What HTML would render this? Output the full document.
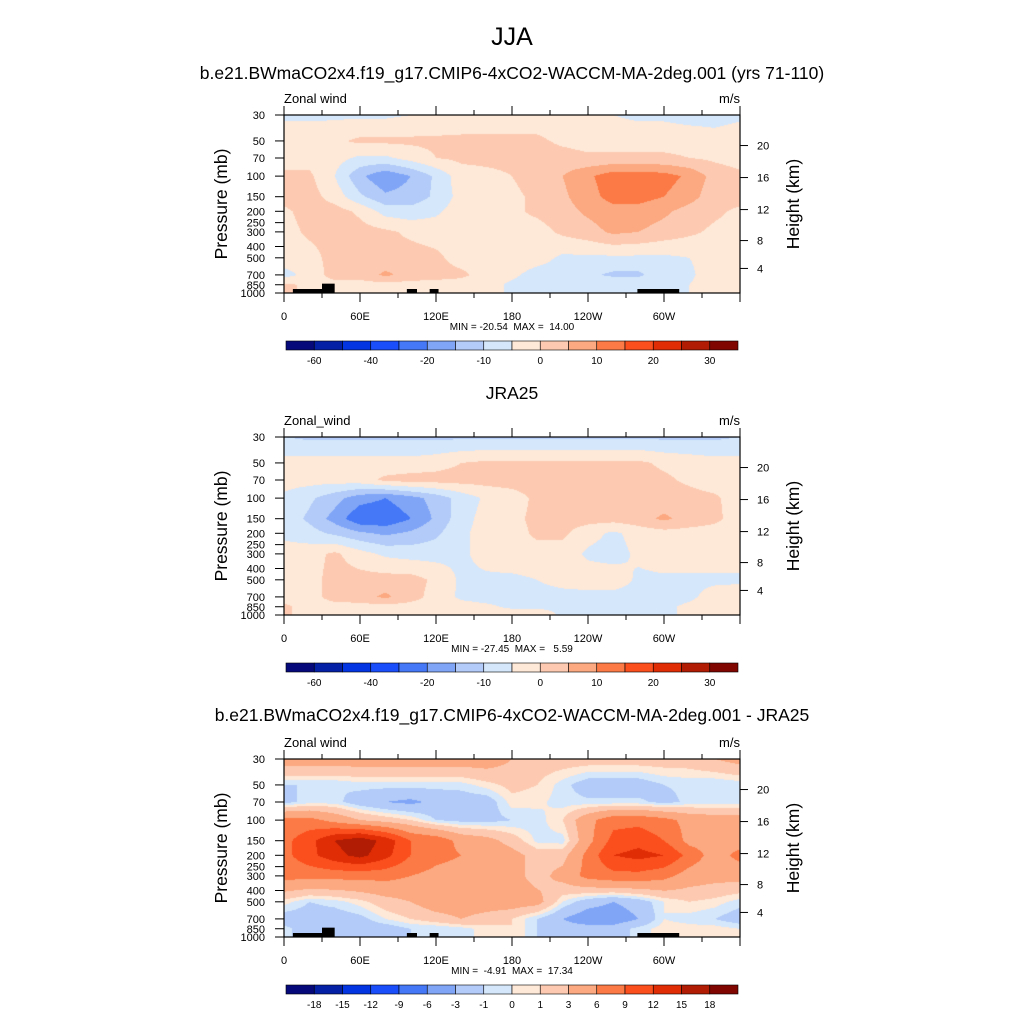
<!DOCTYPE html>
<html><head><meta charset="utf-8">
<style>
html,body{margin:0;padding:0;background:#fff;}
body{width:1024px;height:1024px;position:relative;overflow:hidden;font-family:"Liberation Sans",sans-serif;}
svg text{font-family:"Liberation Sans",sans-serif;white-space:pre;}
</style></head>
<body>
<svg id="fig" width="1024" height="1024" xmlns="http://www.w3.org/2000/svg">
<text x="512" y="45" font-size="25" text-anchor="middle">JJA</text>
</svg>
<script>
// ---------- data ----------
const lons = [0,20,40,60,80,100,120,140,160,180,200,220,240,260,280,300,320,340,360];
const plevs = [30,50,70,100,150,200,300,500,700,850,1000];
const levelsA = [-60,-50,-40,-30,-20,-15,-10,-5,0,5,10,15,20,25,30];
const levelsB = [-18,-15,-12,-9,-6,-3,-1,0,1,3,6,9,12,15,18];
const colors = ["#05097a","#0420a4","#0435e2","#1a4efb","#4478f6","#80a5f7","#b3cbf8","#d5e7fb","#fee8d7","#fdcab1","#fca880","#fc7a45","#fb4f1e","#e02d05","#b11c04","#7f0601"];
const labelsA = ["-60","","-40","","-20","","-10","","0","","10","","20","","30"];
const labelsB = ["-18","-15","-12","-9","-6","-3","-1","0","1","3","6","9","12","15","18"];
const pTicks = [30,50,70,100,150,200,250,300,400,500,700,850,1000];
const zTicks = [4,8,12,16,20];
const lonTicks = [0,30,60,90,120,150,180,210,240,270,300,330,360];
const lonLabels = {0:"0",60:"60E",120:"120E",180:"180",240:"120W",300:"60W"};
const topoA = [[7,35,1000],[30,40,900],[97,105,1000],[115,122,1000],[279,312,1000]];

const gridModel = [
 [-6,-6,-6,-6,-6,-5,-4,-3,-3,-3,-3,-4,-4,-5,-6,-6,-7,-7,-6],
 [-2,-2,-1,1,1,1,1,1,1,1,1,-1,-2,-2,-2,-2,-2,-3,-2],
 [-2,-2,-3,-6,-6,-3,0,1,1,1,2,2,1,1,1,1,0,-1,-2],
 [1,1,-5,-14,-19,-15,-9,-2,-1,0,2,5,9,13,13,12,9,3,1],
 [2,2,-2,-9,-14,-13,-9,-3,-2,-1,1,4,8,12,12,10,7,2,2],
 [-1,2,2,-1,-7,-8,-6,-2,-2,-1,1,3,6,8,8,6,3,1,-1],
 [-2,1,2,2,1,-1,-2,-2,-2,-2,-2,1,3,6,5,3,1,-1,-2],
 [-2,-2,2,2,2,2,1,-2,-2,-2,-3,-6,-6,-6,-6,-6,-5,-3,-2],
 [-7,-3,2,2,6,3,2,1,-2,-4,-7,-7,-9,-11,-11,-7,-6,-2,-2],
 [1,-1,-2,-2,-2,-2,-2,-2,-3,-6,-7,-7,-6,-6,-6,-6,-5,-2,-2],
 [1,-1,-2,-2,-2,-2,-2,-2,-3,-6,-7,-7,-6,-6,-6,-6,-5,-2,-2]
];
const gridObs = [
 [-10,-11,-11,-11,-11,-11,-11,-11,-11,-11,-11,-11,-11,-11,-11,-11,-11,-11,-10],
 [-3,-3,-3,-3,-3,-3,-2,0,1,1,1,1,1,1,1,-1,-2,-3,-3],
 [-3,-3,-3,-2,1,2,2,2,2,2,2,2,2,2,2,1,-1,-3,-3],
 [-6,-9,-13,-18,-20,-17,-13,-8,-4,-2,1,2,2,2,2,2,2,1,-3],
 [-7,-11,-17,-24,-24,-20,-14,-7,-3,-1,1,2,2,2,3,6,3,1,-2],
 [-6,-8,-11,-14,-16,-14,-11,-6,-3,-2,1,1,-3,-6,-3,-2,-2,-2,-2],
 [-3,-2,1,-3,-6,-7,-7,-6,-3,-2,-2,-2,-6,-7,-4,-2,-2,-2,-2],
 [-2,-2,2,2,2,2,-1,-6,-6,-6,-5,-3,-2,-2,-6,-6,-6,-6,-6],
 [-2,-2,2,3,6,2,-2,-6,-7,-7,-7,-7,-7,-7,-7,-7,-6,-3,-2],
 [1,-2,-2,-2,-2,-2,-2,-3,-4,-6,-6,-6,-6,-6,-6,-6,-4,-2,-2],
 [1,-2,-2,-2,-2,-2,-2,-2,-2,-2,-2,-6,-6,-6,-6,-6,-4,-2,-2]
];
const gridDiff = [
 [4.5,4.5,4.5,4.5,4.5,4.5,4.5,4.5,4.5,3,2,2,2,2,2,2,2,3,4],
 [-1,-1,-1,-0.5,-0.5,-0.5,-0.5,-0.5,0.5,1.5,1,-0.5,-2,-2,-2,-1,-0.7,-1,-0.7],
 [-1.5,-0.5,-0.5,-2,-3,-3.5,-2.5,-2,-2,0.5,0.3,-0.5,-0.7,-0.7,-0.7,-1.5,-0.7,-0.7,-0.7],
 [7,7,5,3,2,1,-1,-1.5,-1.5,-1,-0.5,1,5,8,8,7,5,4.5,4.5],
 [8,11,15,17,14,9,8,5,4,2,-0.3,-0.5,5,10,11,9,5,4.5,4.5],
 [8,11,14,16,13,9,7,6,5,4,2,2,7,12,13,12,8,4.5,7],
 [7,7,7,7,7,6,5,4.5,4,4,2,4,7,8,8,7,4.5,4,4],
 [0.5,-1,-0.5,0.5,2,3,4.5,4.5,4.5,4.5,4,0,-2,-3,-2,0,1,0.5,-0.5],
 [-2,-2,-2,-1.5,0,1,2,3,2,1,-1,-3,-4.5,-4.5,-3,0,-0.5,-1,-2],
 [-0.5,-2,-2,-2,-2,-1,-1,-0.5,0.5,1,-1,-2,-2,-2,-0.5,0.5,0.5,0.5,0],
 [-0.5,-2,-2,-2,-2,-1,-1,-0.5,0.5,1,-1,-2,-2,-2,-0.5,0.5,0.5,0.5,0]
];

// ---------- drawing ----------
const NS="http://www.w3.org/2000/svg";
const svg=document.getElementById('fig');
const X0=284,W=456,H=178;
function xS(lon){return X0+lon/360*W;}
function yS(p,top){return top+H*Math.log10(p/30)/Math.log10(1000/30);}
function zToP(z){const m=z*1000;return m<=11000?1013.25*Math.pow(1-2.2558e-5*m,5.2559):226.32*Math.exp(-(m-11000)/6341.6);}
function mk(tag,attrs,parent){const e=document.createElementNS(NS,tag);for(const k in attrs)e.setAttribute(k,attrs[k]);(parent||svg).appendChild(e);return e;}
function txt(s,x,y,size,anchor,parent){const t=mk('text',{x:x,y:y,'font-size':size,'text-anchor':anchor||'middle'},parent);t.textContent=s;return t;}
function colorFor(v,levels){let i=0;while(i<levels.length&&v>=levels[i])i++;return colors[i];}
function sample(grid,lon,lp){
  let fi=lon/20;let i=Math.min(Math.floor(fi),lons.length-2);let tx=fi-i;
  const lps=plevs.map(p=>Math.log10(p));
  let j=0;while(j<lps.length-2&&lp>lps[j+1])j++;
  let ty=(lp-lps[j])/(lps[j+1]-lps[j]);ty=Math.max(0,Math.min(1,ty));
  const a=grid[j][i],b=grid[j][i+1],c=grid[j+1][i],d=grid[j+1][i+1];
  return (a*(1-tx)+b*tx)*(1-ty)+(c*(1-tx)+d*tx)*ty;
}
function panel(cfg){
  const top=cfg.top;
  const g=mk('g',{});
  
  
  if(cfg.title){const t=txt(cfg.title,512,top-38,17.5,'middle',g);}
  const lt=txt(cfg.var,284,top-12,13,'start',g);
  const ut=txt('m/s',740,top-12,13,'end',g);
  const fo=mk('foreignObject',{x:X0,y:top,width:W,height:H},g);
  
  
  const cv=document.createElement('canvas');cv.width=W;cv.height=H;cv.style.display='block';
  fo.appendChild(cv);
  const ctx=cv.getContext('2d');
  const l30=Math.log10(30),l1000=Math.log10(1000);
  for(let py=0;py<H;py++){
    const lp=l30+(py+0.5)/H*(l1000-l30);
    let prev=null,start=0;
    for(let px=0;px<=W;px++){
      let c=null;
      if(px<W){const lon=(px+0.5)/W*360;c=colorFor(sample(cfg.grid,lon,lp),cfg.levels);}
      if(c!==prev){if(prev){ctx.fillStyle=prev;ctx.fillRect(start,py,px-start,1);}prev=c;start=px;}
    }
  }
  if(cfg.topo){topoA.forEach(t=>{const r=mk('rect',{x:xS(t[0]),y:yS(t[2],top)-4,width:xS(t[1])-xS(t[0]),height:yS(1000,top)-yS(t[2],top)+4,fill:'#000'},g);});}
  const fr=mk('rect',{x:X0,y:top,width:W,height:H,fill:'none',stroke:'#000','stroke-width':1.2},g);
  
  pTicks.forEach(p=>{const y=yS(p,top);mk('line',{x1:X0-9,x2:X0,y1:y,y2:y,stroke:'#000','stroke-width':1},g);
    const t=txt(String(p),X0-19,y+4,11,'end',g);});
  zTicks.forEach(z=>{const y=yS(zToP(z),top);mk('line',{x1:X0+W,x2:X0+W+8,y1:y,y2:y,stroke:'#000','stroke-width':1},g);
    const t=txt(String(z),X0+W+17,y+4,11,'start',g);});
  lonTicks.forEach(l=>{const x=xS(l);const major=l%60===0;
    mk('line',{x1:x,x2:x,y1:top+H,y2:top+H+(major?9:5),stroke:'#000','stroke-width':1},g);
    mk('line',{x1:x,x2:x,y1:top,y2:top-(major?9:5),stroke:'#000','stroke-width':1},g);
    if(lonLabels[l]!==undefined){const t=txt(lonLabels[l],x,top+H+27,11,'middle',g);}});
  const ya=txt('Pressure (mb)',0,0,17.5,'middle',g);ya.setAttribute('transform',`translate(227,${top+89}) rotate(-90)`);
  
  const yb=txt('Height (km)',0,0,17.5,'middle',g);yb.setAttribute('transform',`translate(799,${top+89}) rotate(-90)`);
  
  const mm=txt(cfg.minmax,512,top+H+37,10,'middle',g);
  const cy=top+226,bw=452/16;
  colors.forEach((c,i)=>{const r=mk('rect',{x:286+i*bw,y:cy,width:bw,height:9,fill:c,stroke:'#000','stroke-width':0.6},g);
    });
  cfg.labels.forEach((s,i)=>{if(!s)return;const t=txt(s,286+(i+1)*bw,cy+23,10,'middle',g);});
}
const sub=txt('b.e21.BWmaCO2x4.f19_g17.CMIP6-4xCO2-WACCM-MA-2deg.001 (yrs 71-110)',512,79,17.5,'middle');


panel({name:'model-panel',top:115,grid:gridModel,levels:levelsA,labels:labelsA,var:'Zonal wind',minmax:'MIN = -20.54  MAX =  14.00',topo:true});
panel({name:'obs-panel',top:437,grid:gridObs,levels:levelsA,labels:labelsA,var:'Zonal_wind',minmax:'MIN = -27.45  MAX =   5.59',title:'JRA25',topo:false});
panel({name:'diff-panel',top:759,grid:gridDiff,levels:levelsB,labels:labelsB,var:'Zonal wind',minmax:'MIN =  -4.91  MAX =  17.34',title:'b.e21.BWmaCO2x4.f19_g17.CMIP6-4xCO2-WACCM-MA-2deg.001 - JRA25',topo:true});
</script>
</body></html>
